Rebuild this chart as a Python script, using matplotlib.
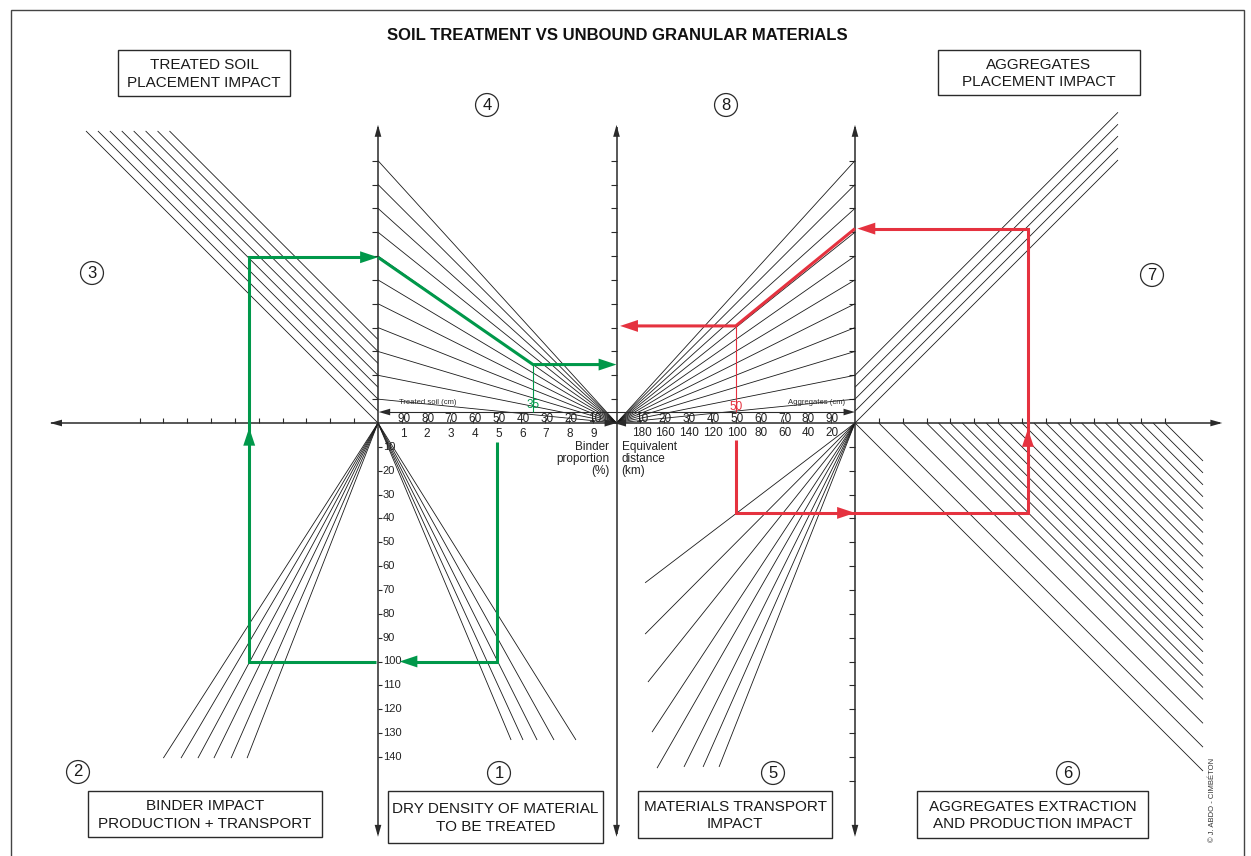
import numpy as np
import matplotlib
matplotlib.use('Agg')
import matplotlib.pyplot as plt
from matplotlib.patches import Polygon, Rectangle, Circle

plt.rcParams['font.family'] = ['Liberation Sans', 'DejaVu Sans']

# ---- nomogram data (axis units: left axis x=0, centre x=10, right x=20, main axis y=0)
fan_ticks = list(range(1, 12))                     # quadrants 4 and 8
q3_offsets = [0, 0.5, 1, 1.5, 2, 2.5, 3, 3.5]       # treated soil placement lines
q7_offsets = [0, 0.5, 1, 1.5, 2]                    # aggregates placement lines
q6_starts = [0, 1, 2, 3, 3.5, 4, 4.5, 5, 5.5, 6, 6.5, 7, 7.5, 8, 8.5, 9,
             9.5, 10, 10.5, 11, 11.5, 12, 12.5, 13]  # extraction/production lines
q2_ends_x = [-9.0, -8.26, -7.55, -6.88, -6.16, -5.49]   # binder lines, end y = -14.05
q1_ends_x = [5.58, 6.08, 6.67, 7.38, 8.3]               # dry density lines, end y = -13.29
q5_ends_x = [11.2, 11.2, 11.32, 11.49, 11.7, 12.83, 13.63, 14.3]
q5_ends_y = [-6.7, -8.85, -10.86, -12.96, -14.47, -14.42, -14.42, -14.42]

binder_labels = [1, 2, 3, 4, 5, 6, 7, 8, 9]
treated_labels = [90, 80, 70, 60, 50, 40, 30, 20, 10]
aggregate_labels = [10, 20, 30, 40, 50, 60, 70, 80, 90]
distance_labels = [180, 160, 140, 120, 100, 80, 60, 40, 20]
density_labels = [10, 20, 30, 40, 50, 60, 70, 80, 90, 100, 110, 120, 130, 140]

# worked examples
green_x = [5, 5, 0.9]
green_y = [-0.8, -10, -10]
green2_x = [-0.1, -5.4, -5.4, 0]
green2_y = [-10, -10, 6.95, 6.95]
green3_x = [0, 6.5, 10]
green3_y = [6.95, 2.45, 2.45]
red_x = [15, 15, 27.25, 27.25, 20.1]
red_y = [-0.7, -3.77, -3.77, 8.15, 8.15]
red2_x = [20, 15, 10.15]
red2_y = [8.15, 4.07, 4.07]
treated_value, aggregate_value = 35, 50

GREEN = '#00984a'
RED = '#e5323f'
DARK = '#2a2a2a'

U = 23.85
X0, Y0 = 378, 423
def px(x): return (x - X0) / U
def py(y): return (Y0 - y) / U

fig = plt.figure(figsize=(12.51, 8.56), dpi=100)
ax = fig.add_axes([0, 0, 1, 1])
ax.set_xlim(px(0), px(1251))
ax.set_ylim(py(856), py(0))
ax.axis('off')


def head(x, y, dx, dy, length, width, color, z=5):
    n = np.hypot(dx, dy)
    ux, uy = dx / n, dy / n
    bx, by = x - ux * length, y - uy * length
    ox, oy = -uy * width / 2, ux * width / 2
    ax.add_patch(Polygon([(x, y), (bx + ox, by + oy), (bx - ox, by - oy)],
                         closed=True, facecolor=color, edgecolor='none', zorder=z))


def thin(xs, ys, lw=0.6, color='#1a1a1a', z=2):
    ax.plot(xs, ys, color=color, lw=lw, zorder=z, solid_capstyle='butt')


# ---- axes
for xa in (0, 10, 20):
    thin([xa, xa], [12.4, -17.25], lw=1.1, color=DARK, z=3)
    head(xa, 12.5, 0, 1, 0.5, 0.28, DARK)
    head(xa, -17.35, 0, -1, 0.5, 0.28, DARK)
thin([-13.7, 35.3], [0, 0], lw=1.1, color=DARK, z=3)
head(-13.75, 0, -1, 0, 0.5, 0.28, DARK)
head(35.4, 0, 1, 0, 0.5, 0.28, DARK)
head(10, 0, 1, 0, 0.5, 0.3, DARK)
head(9.9, 0, -1, 0, 0.5, 0.3, DARK)

# ticks
for k in fan_ticks:
    for xa in (0, 10, 20):
        thin([xa - 0.25, xa], [k, k], lw=0.8, color=DARK)
for k in range(1, 15):
    thin([0, 0.15], [-k, -k], lw=0.8, color=DARK)
for k in range(1, 16):
    thin([19.75, 20], [-k, -k], lw=0.8, color=DARK)
for k in list(range(-10, 0)) + list(range(21, 34)):
    thin([k, k], [0, 0.2], lw=0.8, color=DARK)
for k in binder_labels:
    thin([k, k], [0, 0.15], lw=0.6, color=DARK)
    thin([10 + k, 10 + k], [0, 0.15], lw=0.6, color=DARK)

# ---- families of lines
for k in fan_ticks:
    thin([0, 10], [k, 0])
    thin([10, 20], [0, k])
top3 = py(131)
for d in q3_offsets:
    thin([0, -(top3 - d)], [d, top3])
right7 = px(1118)
for d in q7_offsets:
    thin([20, right7], [d, d + right7 - 20])
right6 = px(1203)
for s in q6_starts:
    thin([20 + s, right6], [0, -(right6 - 20 - s)])
for xe in q2_ends_x:
    thin([0, xe], [0, -14.05])
for xe in q1_ends_x:
    thin([0, xe], [0, -13.29])
for xe, ye in zip(q5_ends_x, q5_ends_y):
    thin([20, xe], [0, ye])

# treated soil / aggregates scales
thin([0.3, 10], [0.46, 0.46], lw=0.8, color=DARK)
head(0.03, 0.46, -1, 0, 0.48, 0.28, DARK)
thin([10, 19.7], [0.46, 0.46], lw=0.8, color=DARK)
head(20, 0.46, 1, 0, 0.48, 0.28, DARK)
ax.text(0.88, 0.84, 'Treated soil (cm)', fontsize=5.5, va='center', color=DARK)
ax.text(19.6, 0.84, 'Aggregates (cm)', fontsize=5.5, va='center', ha='right', color=DARK)

lab = dict(fontsize=8.5, color='#222222')
for b, t in zip(binder_labels, treated_labels):
    ax.text(b + 0.08, 0.17, str(t), ha='center', va='center', **lab)
    ax.text(b + 0.05, -0.45, str(b), ha='center', va='center', **lab)
for a, d in zip(aggregate_labels, distance_labels):
    ax.text(10 + a / 10 + 0.05, 0.17, str(a), ha='center', va='center', **lab)
    ax.text(10 + (10 - d / 20) + 0.05, -0.4, str(d), ha='center', va='center', **lab)
for v in density_labels:
    ax.text(0.2, -v / 10, str(v), ha='left', va='center', fontsize=8, color='#222222')
ax.text(9.7, -0.76, 'Binder\nproportion\n(%)', ha='right', va='top', fontsize=8.5,
        linespacing=1.0, color='#222222')
ax.text(10.22, -0.76, 'Equivalent\ndistance\n(km)', ha='left', va='top', fontsize=8.5,
        linespacing=1.0, color='#222222')

# ---- worked examples
def path(xs, ys, color, lw=2.2):
    ax.plot(xs, ys, color=color, lw=lw, zorder=6, solid_joinstyle='miter',
            solid_capstyle='butt')

HL, HW = 0.75, 0.5
path(green_x[:-1] + [green_x[-1] + 0.4], green_y, GREEN)
head(green_x[-1], green_y[-1], -1, 0, HL, HW, GREEN, z=7)
path(green2_x[:-1] + [green2_x[-1] - 0.4], green2_y, GREEN)
head(green2_x[-1], green2_y[-1], 1, 0, HL, HW, GREEN, z=7)
head(green2_x[1], -0.2, 0, 1, HL, HW, GREEN, z=7)
path(green3_x[:-1] + [green3_x[-1] - 0.4], green3_y, GREEN)
head(green3_x[-1], green3_y[-1], 1, 0, HL, HW, GREEN, z=7)
thin([green3_x[1], green3_x[1]], [green3_y[1], 0.46], lw=0.8, color=GREEN, z=6)
ax.text(green3_x[1], 0.75, str(treated_value), color=GREEN, fontsize=8.5,
        ha='center', va='center')

path(red_x[:-1] + [red_x[-1] + 0.4], red_y, RED)
head(red_x[-1], red_y[-1], -1, 0, HL, HW, RED, z=7)
head(20, red_y[1], 1, 0, HL, HW, RED, z=7)
head(red_x[2], -0.25, 0, 1, HL, HW, RED, z=7)
path(red2_x[:-1] + [red2_x[-1] + 0.4], red2_y, RED)
head(red2_x[-1], red2_y[-1], -1, 0, HL, HW, RED, z=7)
thin([red2_x[1], red2_x[1]], [red2_y[1], 0.46], lw=0.8, color=RED, z=6)
ax.text(red2_x[1], 0.68, str(aggregate_value), color=RED, fontsize=8.5,
        ha='center', va='center')

# ---- titles, boxes, numbers
ax.text(px(617), py(36), 'SOIL TREATMENT VS UNBOUND GRANULAR MATERIALS',
        fontsize=12, fontweight='bold', ha='center', va='center', color='#111111')

boxes = [((118, 50, 290, 96), 'TREATED SOIL\nPLACEMENT IMPACT'),
         ((938, 50, 1140, 95), 'AGGREGATES\nPLACEMENT IMPACT'),
         ((88, 791, 322, 837), 'BINDER IMPACT\nPRODUCTION + TRANSPORT'),
         ((388, 791, 603, 843), 'DRY DENSITY OF MATERIAL\nTO BE TREATED'),
         ((638, 791, 832, 838), 'MATERIALS TRANSPORT\nIMPACT'),
         ((917, 791, 1148, 838), 'AGGREGATES EXTRACTION\nAND PRODUCTION IMPACT')]
for (x1, y1, x2, y2), txt in boxes:
    ax.add_patch(Rectangle((px(x1), py(y2)), px(x2) - px(x1), py(y1) - py(y2),
                           facecolor='white', edgecolor=DARK, lw=1.0, zorder=8))
    ax.text(px((x1 + x2) / 2), py((y1 + y2) / 2 + 1), txt, ha='center', va='center',
            fontsize=11, linespacing=1.28, color='#1a1a1a', zorder=9)

circles = [(92, 273, '3'), (487, 105, '4'), (726, 105, '8'), (1152, 275, '7'),
           (78, 772, '2'), (499, 773, '1'), (773, 773, '5'), (1068, 773, '6')]
for cx, cy, n in circles:
    ax.add_patch(Circle((px(cx), py(cy)), 0.48, facecolor='white', edgecolor=DARK,
                        lw=0.9, zorder=8))
    ax.text(px(cx), py(cy), n, ha='center', va='center', fontsize=12, zorder=9,
            color='#1a1a1a')

ax.text(px(1213), py(800), '\u00a9 J. ABDO - CIMB\u00c9TON', rotation=90, fontsize=5.5,
        ha='center', va='center', color='#333333')

# outer frame
ax.add_patch(Rectangle((px(11), py(870)), px(1244) - px(11), py(10) - py(870),
                       facecolor='none', edgecolor='#444444', lw=1.0, zorder=1))

fig.savefig('out.png', dpi=100)
